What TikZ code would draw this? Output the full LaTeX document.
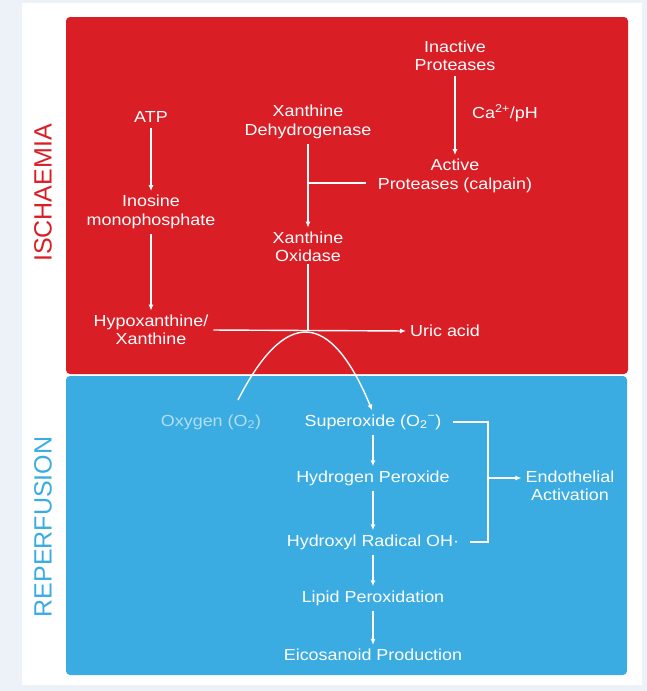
\documentclass[tikz,border=0pt]{standalone}
\usepackage{fontspec}
\setmainfont{Liberation Sans}
\newfontfamily\bodyfont{Liberation Sans}[FakeStretch=1.12]
\usetikzlibrary{arrows.meta}
\definecolor{ischred}{RGB}{218,30,38}
\definecolor{repblue}{RGB}{58,172,226}
\definecolor{pagegrey}{RGB}{237,242,249}
\definecolor{oxyblue}{RGB}{178,222,244}

\begin{document}
\begin{tikzpicture}[x=1pt,y=-1pt,
  txt/.style={text=white,align=center,inner sep=2pt,font=\bodyfont\fontsize{16}{18.5}\selectfont},
  flow/.style={white,line width=1.4pt,shorten <=3pt,shorten >=2pt,-{Latex[length=6pt,width=5pt]}},
  link/.style={white,line width=1.4pt},
  phase/.style={rotate=90,font=\fontsize{25}{25}\selectfont}]
% background and the two phases
\fill[pagegrey] (0,0) rectangle (647,691);
\fill[white] (22,3) rectangle (642,685);
\fill[ischred,rounded corners=4pt] (66,17) rectangle (628,374);
\fill[repblue,rounded corners=4pt] (66,376) rectangle (627,675);
\node[phase,text=ischred] (isch) at (43,193) {ISCHAEMIA};
\node[phase,text=repblue] (rep) at (43,527) {REPERFUSION};
% ischaemia
\node[txt] (atp) at (151,117) {ATP};
\node[txt] (imp) at (151,212) {Inosine\\monophosphate};
\node[txt] (hyp) at (151,330) {Hypoxanthine/\\Xanthine};
\node[txt] (xdh) at (308,122) {Xanthine\\Dehydrogenase};
\node[txt] (xo) at (308,247) {Xanthine\\Oxidase};
\node[txt] (inact) at (455,56) {Inactive\\Proteases};
\node[txt] (ca) at (505,113) {Ca\textsuperscript{2+}/pH};
\node[txt] (act) at (455,176) {Active\\Proteases (calpain)};
\node[txt,anchor=west] (uric) at (408,331) {Uric acid};
% reperfusion
\node[txt,text=oxyblue] (oxy) at (211,422) {Oxygen (O\textsubscript{2})};
\node[txt] (sup) at (373,422) {Superoxide (O\textsubscript{2}\textsuperscript{−})};
\node[txt] (hp) at (373,478) {Hydrogen Peroxide};
\node[txt] (oh) at (373,542) {Hydroxyl Radical OH·};
\node[txt] (lip) at (373,598) {Lipid Peroxidation};
\node[txt] (eic) at (373,655) {Eicosanoid Production};
\node[txt] (endo) at (570,486) {Endothelial\\Activation};
% joins
\coordinate (calp) at (308,183);
\coordinate (xtop) at (308,331);
\coordinate (o2start) at (238,400);
\coordinate (brk) at (488,478);
% arrows
\draw[flow] (atp) -- (imp);
\draw[flow] (imp) -- (hyp);
\draw[flow] (inact) -- (act);
\draw[flow] (xdh) -- (xo);
\draw[link,shorten <=10pt] (act.west |- calp) -- (calp);
\draw[link] (xo) -- (xtop);
\draw[flow] (hyp.east) -- (uric.west);
\draw[flow,shorten <=0pt] (o2start) .. controls (285,308) and (330,309) .. (sup.north);
\draw[flow] (sup) -- (hp);
\draw[flow] (hp) -- (oh);
\draw[flow] (oh) -- (lip);
\draw[flow] (lip) -- (eic);
\draw[link,shorten <=9pt,shorten >=9pt] (sup.east) -- (sup.east -| brk) -- (oh.east -| brk) -- (oh.east);
\draw[flow,shorten <=0pt] (brk) -- (brk -| endo.west);
\end{tikzpicture}
\end{document}
